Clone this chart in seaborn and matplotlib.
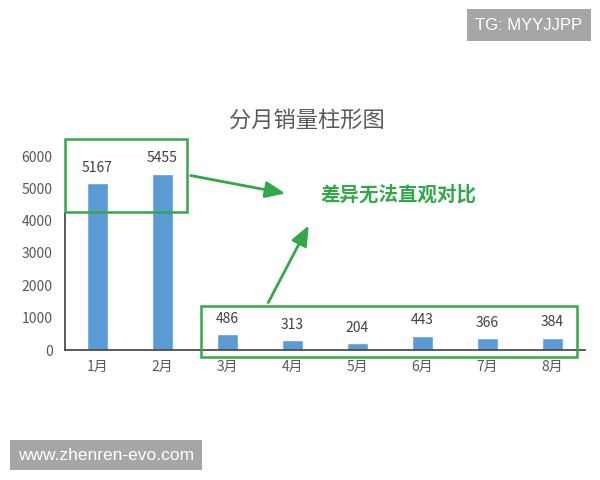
import matplotlib
matplotlib.use("Agg")
import matplotlib.pyplot as plt
import seaborn as sns
import pandas as pd
from matplotlib.patches import Rectangle, FancyArrowPatch

# --- data ---
months = ["1月", "2月", "3月", "4月", "5月", "6月", "7月", "8月"]
sales = [5167, 5455, 486, 313, 204, 443, 366, 384]

BAR = "#5B9BD5"
GREEN = "#33A84A"
GREY_TXT = "#595959"

sns.set_theme(style="white")
plt.rcParams["font.family"] = ["Noto Sans CJK SC", "DejaVu Sans"]

W, H = 600, 480
fig = plt.figure(figsize=(6, 4.8), dpi=100)
fig.patch.set_facecolor("white")


def fx(x):
    return x / W


def fy(y):
    return 1 - y / H


# axes placed so the plot area matches the picture (pixels)
ax = fig.add_axes([fx(65), fy(350), (585 - 65) / W, (350 - 156) / H])

df = pd.DataFrame({"month": months, "sales": sales})
sns.barplot(data=df, x="month", y="sales", color=BAR, width=0.31,
            saturation=1, ax=ax)

ax.set_xlim(-0.5, 7.5)
ax.set_ylim(0, 6000)
ax.set_yticks(range(0, 6001, 1000))
ax.set_xlabel("")
ax.set_ylabel("")
ax.tick_params(axis="both", length=0, labelsize=10, labelcolor=GREY_TXT)
ax.tick_params(axis="y", pad=9)
ax.tick_params(axis="x", pad=7)

for s in ["top", "right"]:
    ax.spines[s].set_visible(False)
ax.spines["bottom"].set_color("#404040")
ax.spines["bottom"].set_linewidth(1.2)
ax.spines["left"].set_color("#404040")
ax.spines["left"].set_linewidth(1.2)
ax.spines["left"].set_bounds(0, 4250)

# value labels
for i, v in enumerate(sales):
    ax.annotate(str(v), (i, v), xytext=(0, 11), textcoords="offset points",
                ha="center", va="center", fontsize=10, color="#404040")

# title
fig.text(fx(307), fy(120), "分月销量柱形图", ha="center", va="center",
         fontsize=16, color=GREY_TXT)

# green highlight boxes
fig.patches.append(Rectangle((fx(65), fy(212)), (187 - 65) / W, (212 - 139) / H,
                             transform=fig.transFigure, fill=False,
                             edgecolor=GREEN, linewidth=1.8))
fig.patches.append(Rectangle((fx(201), fy(357)), (577 - 201) / W, (357 - 306) / H,
                             transform=fig.transFigure, fill=False,
                             edgecolor=GREEN, linewidth=1.8))

# arrows
for (x0, y0), (x1, y1) in [((188, 175), (288, 194)), ((267, 305), (310, 223))]:
    fig.patches.append(FancyArrowPatch((fx(x0), fy(y0)), (fx(x1), fy(y1)),
                                       transform=fig.transFigure,
                                       arrowstyle="-|>,head_length=12,head_width=5",
                                       color=GREEN, linewidth=2))

fig.text(fx(398), fy(195), "差异无法直观对比", ha="center", va="center",
         fontsize=14, fontweight="bold", color=GREEN)

# watermark boxes
fig.text(fx(529), fy(25), "TG: MYYJJPP", ha="center", va="center", fontsize=12,
         color="white", family="Liberation Sans",
         bbox=dict(boxstyle="square,pad=0.5", facecolor="#A6A6A6", edgecolor="none"))
fig.text(fx(106), fy(455), "www.zhenren-evo.com", ha="center", va="center",
         fontsize=12.5, color="white", family="Liberation Sans",
         bbox=dict(boxstyle="square,pad=0.45", facecolor="#A6A6A6", edgecolor="none"))

fig.savefig("out.png", dpi=100)
